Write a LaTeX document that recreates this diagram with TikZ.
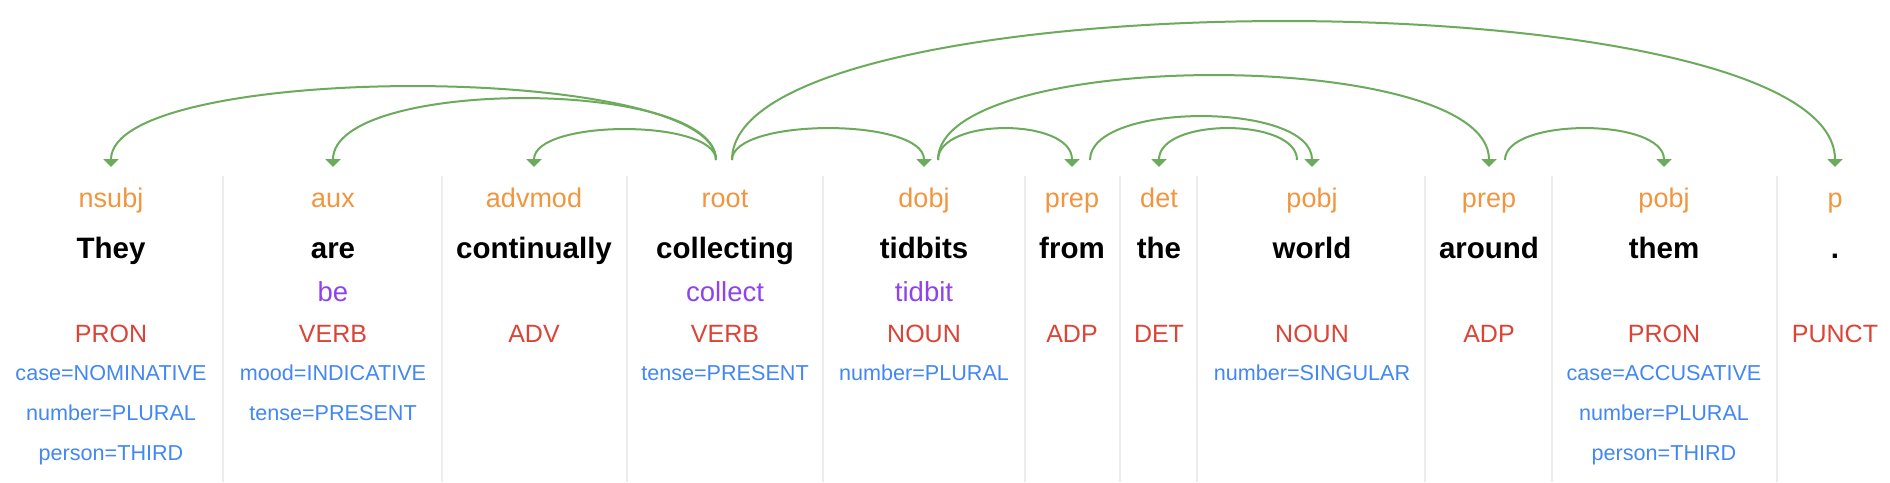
\documentclass[tikz,border=0pt]{standalone}
\usepackage{fontspec}
\setmainfont{Liberation Sans}
\usetikzlibrary{arrows.meta}
\definecolor{relc}{RGB}{240,150,62}
\definecolor{lemc}{RGB}{142,68,236}
\definecolor{posc}{RGB}{219,68,55}
\definecolor{featc}{RGB}{66,135,244}
\definecolor{arcc}{RGB}{108,170,92}
\definecolor{divc}{RGB}{236,236,236}
\tikzset{
  basetxt/.style={anchor=base, inner sep=0pt, outer sep=0pt},
  reltxt/.style={basetxt, text=relc, font=\fontsize{27}{30}\selectfont},
  wordtxt/.style={basetxt, text=black, font=\fontsize{29.5}{32}\selectfont\bfseries},
  lemtxt/.style={basetxt, text=lemc, font=\fontsize{27.5}{30}\selectfont},
  postxt/.style={basetxt, text=posc, font=\fontsize{25}{28}\selectfont},
  feattxt/.style={basetxt, text=featc, font=\fontsize{21.6}{24}\selectfont},
  divider/.style={draw=divc, line width=2pt},
  deparc/.style={draw=arcc, line width=2pt, -{Triangle[width=15pt,length=8pt]}}
}
\begin{document}
\begin{tikzpicture}[x=1pt,y=-1pt]
\path[use as bounding box, fill=white] (0,0) rectangle (1890,482);
% dividers
\foreach \x/\n in {223/a,442/b,627/c,823/d,1025/e,1120/f,1197/g,1425/h,1552/i,1777/j}{
  \coordinate (dv\n top) at (\x,176);
  \coordinate (dv\n bot) at (\x,482);
  \draw[divider] (dv\n top) -- (dv\n bot);
}
% deprel labels
\node[reltxt] (d1) at (111,207) {nsubj};
\node[reltxt] (d2) at (333,207) {aux};
\node[reltxt] (d3) at (534,207) {advmod};
\node[reltxt] (d4) at (725,207) {root};
\node[reltxt] (d5) at (924,207) {dobj};
\node[reltxt] (d6) at (1072,207) {prep};
\node[reltxt] (d7) at (1159,207) {det};
\node[reltxt] (d8) at (1312,207) {pobj};
\node[reltxt] (d9) at (1489,207) {prep};
\node[reltxt] (d10) at (1664,207) {pobj};
\node[reltxt] (d11) at (1835,207) {p};
% words
\node[wordtxt] (w1) at (111,258) {They};
\node[wordtxt] (w2) at (333,258) {are};
\node[wordtxt] (w3) at (534,258) {continually};
\node[wordtxt] (w4) at (725,258) {collecting};
\node[wordtxt] (w5) at (924,258) {tidbits};
\node[wordtxt] (w6) at (1072,258) {from};
\node[wordtxt] (w7) at (1159,258) {the};
\node[wordtxt] (w8) at (1312,258) {world};
\node[wordtxt] (w9) at (1489,258) {around};
\node[wordtxt] (w10) at (1664,258) {them};
\node[wordtxt] (w11) at (1835,258) {.};
% lemmas
\node[lemtxt] (l2) at (333,301) {be};
\node[lemtxt] (l4) at (725,301) {collect};
\node[lemtxt] (l5) at (924,301) {tidbit};
% POS
\node[postxt] (p1) at (111,342) {PRON};
\node[postxt] (p2) at (333,342) {VERB};
\node[postxt] (p3) at (534,342) {ADV};
\node[postxt] (p4) at (725,342) {VERB};
\node[postxt] (p5) at (924,342) {NOUN};
\node[postxt] (p6) at (1072,342) {ADP};
\node[postxt] (p7) at (1159,342) {DET};
\node[postxt] (p8) at (1312,342) {NOUN};
\node[postxt] (p9) at (1489,342) {ADP};
\node[postxt] (p10) at (1664,342) {PRON};
\node[postxt] (p11) at (1835,342) {PUNCT};
% features
\node[feattxt] (f1a) at (111,380) {case=NOMINATIVE};
\node[feattxt] (f1b) at (111,420) {number=PLURAL};
\node[feattxt] (f1c) at (111,460) {person=THIRD};
\node[feattxt] (f2a) at (333,380) {mood=INDICATIVE};
\node[feattxt] (f2b) at (333,420) {tense=PRESENT};
\node[feattxt] (f4a) at (725,380) {tense=PRESENT};
\node[feattxt] (f5a) at (924,380) {number=PLURAL};
\node[feattxt] (f8a) at (1312,380) {number=SINGULAR};
\node[feattxt] (f10a) at (1664,380) {case=ACCUSATIVE};
\node[feattxt] (f10b) at (1664,420) {number=PLURAL};
\node[feattxt] (f10c) at (1664,460) {person=THIRD};
% arc anchors
\coordinate (t1) at (111,167);
\coordinate (t2) at (333,167);
\coordinate (t3) at (534,167);
\coordinate (t5) at (924,167);
\coordinate (t6) at (1072,167);
\coordinate (t7) at (1159,167);
\coordinate (t8) at (1312,167);
\coordinate (t9) at (1489,167);
\coordinate (t10) at (1664,167);
\coordinate (t11) at (1835,167);
\coordinate (h4l) at (716,160);
\coordinate (h4r) at (732,160);
\coordinate (h5) at (938,160);
\coordinate (h6) at (1090,160);
\coordinate (h8) at (1297,160);
\coordinate (h9) at (1505,160);
% arcs
\draw[deparc] (h4l) .. controls +(0,-98.5) and +(0,-105.5) .. (t1);
\draw[deparc] (h4l) .. controls +(0,-82.5) and +(0,-89.5) .. (t2);
\draw[deparc] (h4l) .. controls +(0,-41.2) and +(0,-48.2) .. (t3);
\draw[deparc] (h4r) .. controls +(0,-42.5) and +(0,-49.5) .. (t5);
\draw[deparc] (h4r) .. controls +(0,-185.2) and +(0,-192.2) .. (t11);
\draw[deparc] (h5) .. controls +(0,-42.5) and +(0,-49.5) .. (t6);
\draw[deparc] (h5) .. controls +(0,-113.2) and +(0,-120.2) .. (t9);
\draw[deparc] (h6) .. controls +(0,-58.5) and +(0,-65.5) .. (t8);
\draw[deparc] (h8) .. controls +(0,-42.5) and +(0,-49.5) .. (t7);
\draw[deparc] (h9) .. controls +(0,-42.5) and +(0,-49.5) .. (t10);
\end{tikzpicture}
\end{document}
